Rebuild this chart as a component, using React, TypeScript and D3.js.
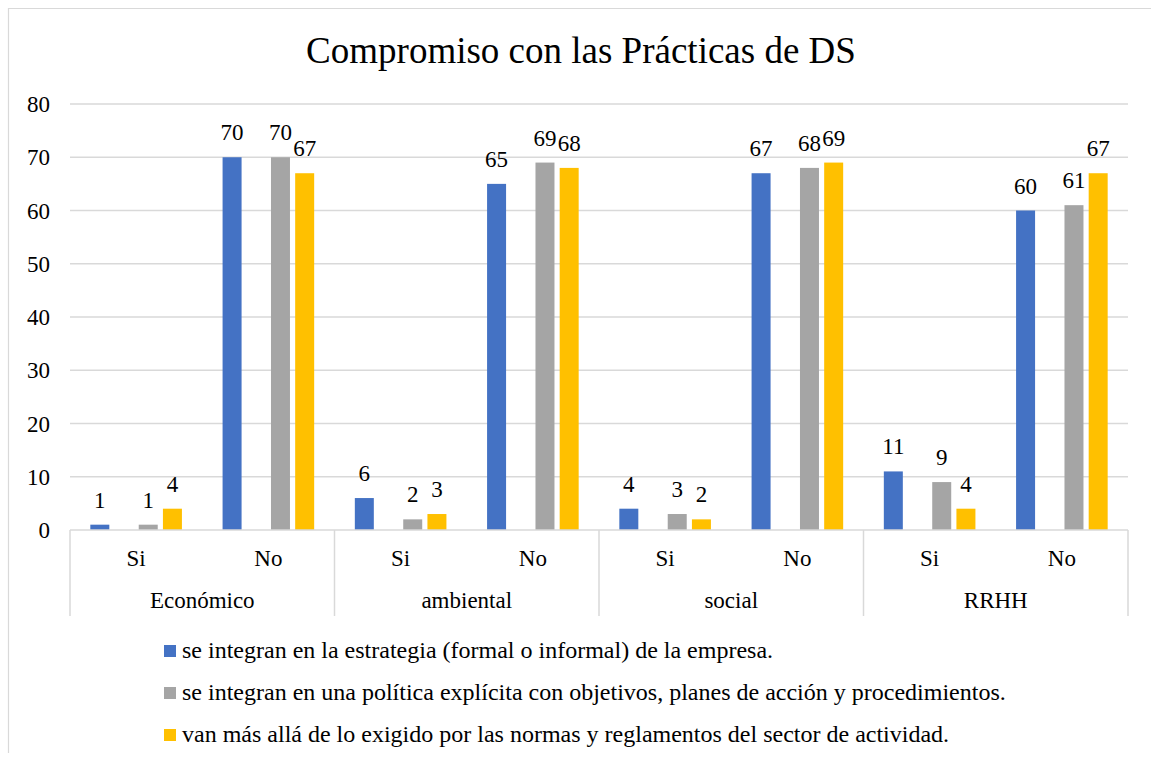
import React from "react";
import * as d3 from "d3";

const groups = ["Económico", "ambiental", "social", "RRHH"];
const answers = ["Si", "No"];
const seriesNames = [
  "se integran en la estrategia (formal o informal) de la empresa.",
  "se integran en una política explícita con objetivos, planes de acción y procedimientos.",
  "van más allá de lo exigido por las normas y reglamentos del sector de actividad.",
];
const seriesColors = ["#4472C4", "#A5A5A5", "#FFC000"];
// slot index of each series within a category (slot 1 is an empty series)
const seriesSlots = ["s0", "s2", "s3"];
const slotKeys = ["s0", "s1", "s2", "s3"];

const estrategia = [1, 70, 6, 65, 4, 67, 11, 60];
const politica = [1, 70, 2, 69, 3, 68, 9, 61];
const masAlla = [4, 67, 3, 68, 2, 69, 4, 67];
const seriesValues = [estrategia, politica, masAlla];

const yTicks = [0, 10, 20, 30, 40, 50, 60, 70, 80];
const title = "Compromiso con las Prácticas de DS";

const W = 1151;
const H = 763;
const left = 70;
const right = 1128;
const top = 104;
const bottom = 530;
const FF = "Liberation Serif";

function T(props: any) {
  const { children, ...rest } = props;
  return (
    <text fontFamily={FF} fill="#000" style={{ fontFamily: `"${FF}"` }} {...rest}>
      {children}
    </text>
  );
}

export default function App() {
  const categories = groups.flatMap((g) => answers.map((a) => `${g}|${a}`));
  const x = d3.scaleBand<string>().domain(categories).range([left, right]).padding(0);
  const gx = d3.scaleBand<string>().domain(groups).range([left, right]).padding(0);
  const slot = d3
    .scaleBand<string>()
    .domain(slotKeys)
    .range([0, x.bandwidth()])
    .paddingInner(0.215)
    .paddingOuter(0.84);
  const y = d3.scaleLinear().domain([0, 80]).range([bottom, top]);

  return (
    <svg width={W} height={H} style={{ position: "absolute", left: 0, top: 0 }} fontFamily={FF}>
      <rect x={0} y={0} width={W} height={H} fill="#fff" />
      <line x1={8} y1={8.5} x2={W} y2={8.5} stroke="#d9d9d9" strokeWidth={1.2} />
      <line x1={8.5} y1={8} x2={8.5} y2={753} stroke="#d9d9d9" strokeWidth={1.2} />

      <T x={581} y={63} textAnchor="middle" fontSize={37}>
        {title}
      </T>

      {yTicks.map((t) => (
        <g key={t}>
          {t !== 0 && (
            <line x1={left} x2={right} y1={y(t)} y2={y(t)} stroke="#d9d9d9" strokeWidth={1.5} />
          )}
          <T x={50} y={y(t) + 8} textAnchor="end" fontSize={23}>
            {t}
          </T>
        </g>
      ))}

      {seriesValues.map((vals, si) =>
        vals.map((v, ci) => {
          const cx = (x(categories[ci]) as number) + (slot(seriesSlots[si]) as number);
          return (
            <g key={`${si}-${ci}`}>
              <rect
                x={cx}
                y={y(v)}
                width={slot.bandwidth()}
                height={bottom - y(v)}
                fill={seriesColors[si]}
              />
              <T x={cx + slot.bandwidth() / 2} y={y(v) - 17} textAnchor="middle" fontSize={23}>
                {v}
              </T>
            </g>
          );
        })
      )}

      <line x1={left} x2={right} y1={bottom} y2={bottom} stroke="#d9d9d9" strokeWidth={1.5} />
      {groups.map((g) => (
        <line
          key={`sep-${g}`}
          x1={gx(g) as number}
          x2={gx(g) as number}
          y1={bottom}
          y2={616}
          stroke="#d9d9d9"
          strokeWidth={1.5}
        />
      ))}
      <line x1={right} x2={right} y1={bottom} y2={616} stroke="#d9d9d9" strokeWidth={1.5} />

      {categories.map((c) => (
        <T key={`lab-${c}`} x={(x(c) as number) + x.bandwidth() / 2} y={566} textAnchor="middle" fontSize={23}>
          {c.split("|")[1]}
        </T>
      ))}
      {groups.map((g) => (
        <T key={`g-${g}`} x={(gx(g) as number) + gx.bandwidth() / 2} y={608} textAnchor="middle" fontSize={23}>
          {g}
        </T>
      ))}

      {seriesNames.map((name, i) => (
        <g key={`leg-${i}`} transform={`translate(164, ${645 + i * 42})`}>
          <rect x={0} y={0} width={12} height={12} fill={seriesColors[i]} />
          <T x={18} y={13} fontSize={24}>
            {name}
          </T>
        </g>
      ))}
    </svg>
  );
}
